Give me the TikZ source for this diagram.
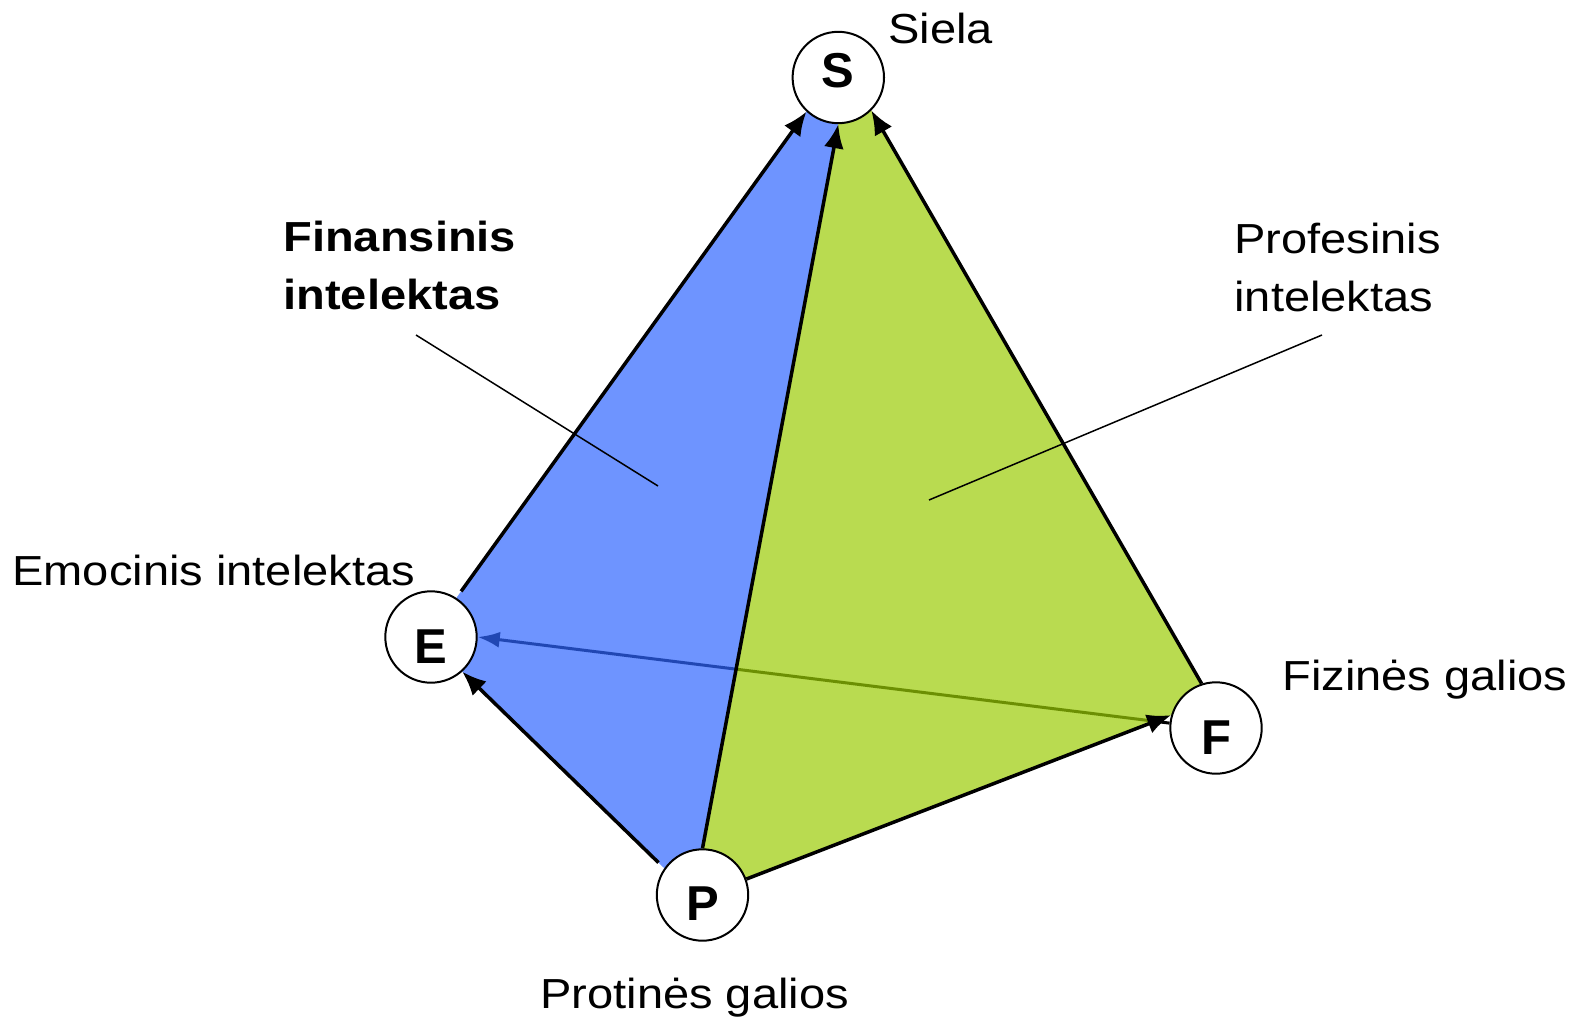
\documentclass[tikz,border=0pt]{standalone}
\usepackage{fontspec}
\setmainfont{Liberation Sans}
\newfontfamily\labelfont{Liberation Sans}[FakeStretch=1.12]
\usetikzlibrary{arrows.meta,backgrounds}
\definecolor{finblue}{RGB}{48,102,255}
\definecolor{progreen}{RGB}{155,204,5}

\begin{document}
\begin{tikzpicture}[x=0.5pt, y=-0.5pt, >={Latex[length=12pt,width=10pt]},
  vertex/.style={circle, draw, line width=1pt, fill=white, minimum size=45.7pt, inner sep=0pt,
    font=\fontsize{24.5}{24.5}\selectfont\bfseries, text height=26pt, text depth=0pt},
  txt/.style={anchor=base west, inner sep=0pt, align=left, font=\labelfont\fontsize{21}{29}\selectfont},
  boldtxt/.style={txt, font=\labelfont\bfseries\fontsize{21}{29}\selectfont},
  edge/.style={->, line width=1.75pt}]
  \useasboundingbox (0,0) rectangle (1579,1022);
  \node[vertex, text height=10.5pt] (S) at (838.3,77.5) {S};
  \node[vertex] (E) at (431,637) {E};
  \node[vertex, text height=25pt] (P) at (702.5,895) {P};
  \node[vertex] (F) at (1216,728) {F};
  \begin{scope}[on background layer]
    \draw[->, line width=1.5pt, >={Latex[length=11pt,width=8pt]}] (F.174) -- (E.east);
    \fill[finblue, fill opacity=0.7] (S.south) -- (P.north) -- (P.145) -- (E.-48) -- (E.57) -- (S.227) -- cycle;
    \fill[progreen, fill opacity=0.7] (S.south) -- (S.-45) -- (F.108) -- (F.164) -- (P.20) -- (P.north) -- cycle;
  \end{scope}
  \draw[edge, shorten <=4pt] (E.57) -- (S.227);
  \draw[edge] (P.north) -- (S.south);
  \draw[edge] (F.108) -- (S.-45);
  \draw[edge, shorten <=4pt] (P.145) -- (E.-48);
  \draw[edge] (P.20) -- (F.164);
  % labels
  \node[txt] (siela) at (888,44) {Siela};
  \node[boldtxt] (fin) at (283,309) {Finansinis\\intelektas};
  \node[txt] (prof) at (1234,311) {Profesinis\\intelektas};
  \node[txt] (emo) at (12,585) {Emocinis intelektas};
  \node[txt] (fiz) at (1282,690) {Fizinės galios};
  \node[txt] (prot) at (540,1008) {Protinės galios};
  \coordinate (fin-from) at (416,335);
  \coordinate (fin-to) at (658,486);
  \coordinate (prof-from) at (1322,335);
  \coordinate (prof-to) at (929,500);
  \draw[line width=0.75pt] (fin-from) -- (fin-to);
  \draw[line width=0.75pt] (prof-from) -- (prof-to);
\end{tikzpicture}
\end{document}
